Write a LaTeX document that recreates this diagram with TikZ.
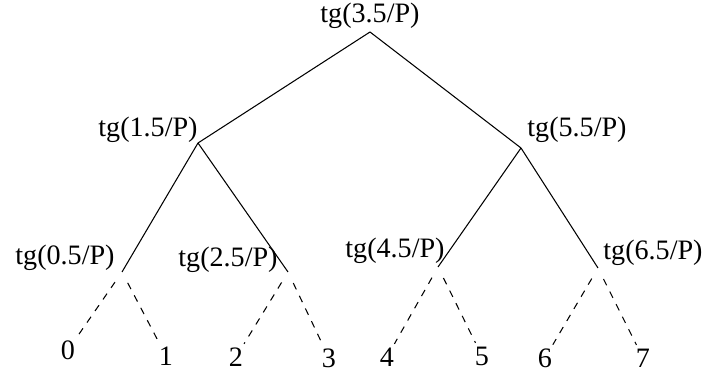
\documentclass[tikz,border=0pt]{standalone}
\usepackage{fontspec}
\setmainfont{Liberation Serif}

\begin{document}
\begin{tikzpicture}[x=0.02cm, y=-0.02cm, font=\fontsize{16}{18}\selectfont,
  edge/.style={line width=0.6pt},
  leafedge/.style={line width=0.6pt, dash pattern=on 4pt off 4pt, shorten <=7pt},
  leaf/.style={inner sep=2pt}]
\useasboundingbox (0,0) rectangle (707,377);
% inner vertices:
\coordinate (root) at (370,32);
\coordinate (l) at (198,143);
\coordinate (r) at (521,148);
\coordinate (ll) at (122,272);
\coordinate (lr) at (288,272);
\coordinate (rl) at (438,267);
\coordinate (rr) at (598,268);
% vertex texts:
\node (troot) at (370,16) {tg(3.5/P)};
\node (tl) at (148,130) {tg(1.5/P)};
\node (tr) at (577,130) {tg(5.5/P)};
\node (tll) at (65,258) {tg(0.5/P)};
\node (tlr) at (228,260) {tg(2.5/P)};
\node (trl) at (395,251) {tg(4.5/P)};
\node (trr) at (653,253) {tg(6.5/P)};
% leaves:
\node[leaf] (p0) at (68,350) {0};
\node[leaf] (p1) at (166,356) {1};
\node[leaf] (p2) at (236,357) {2};
\node[leaf] (p3) at (329,358) {3};
\node[leaf] (p4) at (387,357) {4};
\node[leaf] (p5) at (482,356) {5};
\node[leaf] (p6) at (545,358) {6};
\node[leaf] (p7) at (643,358) {7};
% solid edges:
\draw[edge] (root) -- (l);
\draw[edge] (root) -- (r);
\draw[edge] (l) -- (ll);
\draw[edge] (l) -- (lr);
\draw[edge] (r) -- (rl);
\draw[edge] (r) -- (rr);
% dashed edges:
\draw[leafedge] (ll) -- (p0); \draw[leafedge] (ll) -- (p1);
\draw[leafedge] (lr) -- (p2); \draw[leafedge] (lr) -- (p3);
\draw[leafedge] (rl) -- (p4); \draw[leafedge] (rl) -- (p5);
\draw[leafedge] (rr) -- (p6); \draw[leafedge] (rr) -- (p7);
\end{tikzpicture}
\end{document}
